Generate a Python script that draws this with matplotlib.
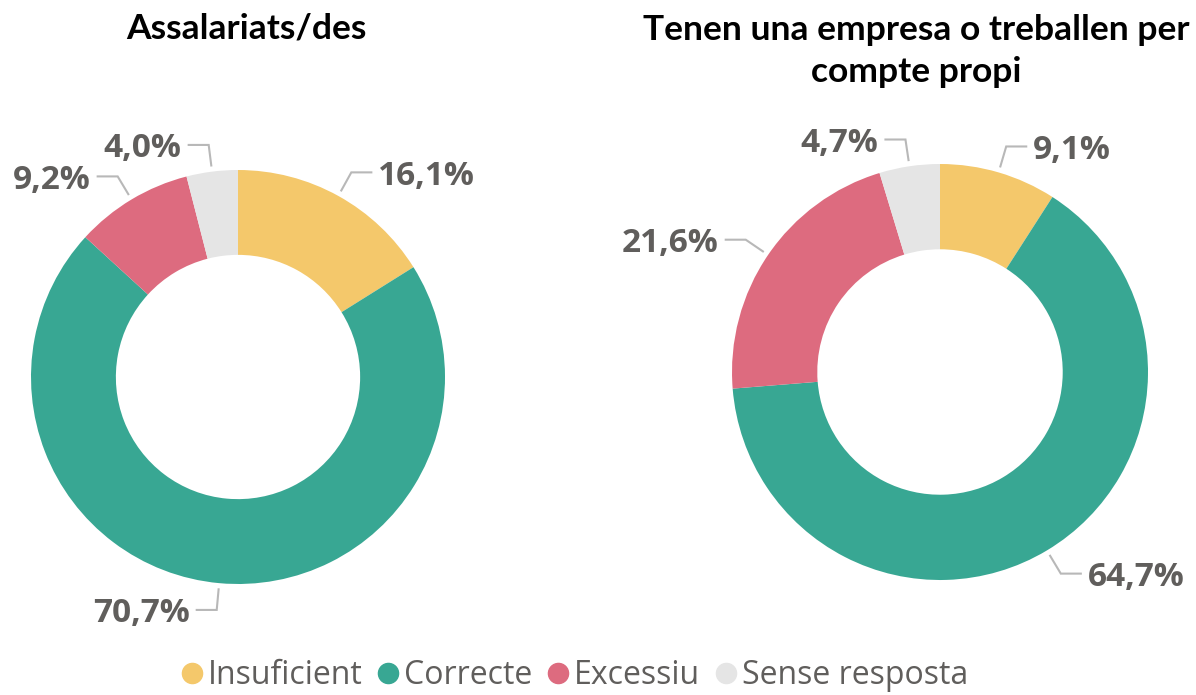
import numpy as np
import matplotlib.pyplot as plt
from matplotlib.lines import Line2D

categories = ['Insuficient', 'Correcte', 'Excessiu', 'Sense resposta']
assalariats = [16.1, 70.7, 9.2, 4.0]
empresa = [9.1, 64.7, 21.6, 4.7]
titles = ['Assalariats/des', 'Tenen una empresa o treballen per\ncompte propi']
colors = ['#F4C86B', '#38A793', '#DD6B7F', '#E5E5E5']

W, H = 1196, 695
text_col = '#605E5C'
line_col = '#B8B8B8'

fig = plt.figure(figsize=(W / 100, H / 100), dpi=100)


def donut(cx, cy, r, values):
    # axes placed so that data radius 1 == r pixels
    ax = fig.add_axes([(cx - r) / W, (H - cy - r) / H, 2 * r / W, 2 * r / H])
    wedges, _ = ax.pie(values, colors=colors, startangle=90, counterclock=False,
                       radius=1, wedgeprops=dict(width=0.41, linewidth=0))
    ax.set_xlim(-1, 1)
    ax.set_ylim(-1, 1)
    ax.set_aspect('equal')
    ax.axis('off')
    seg = 20 / r
    gap = 7 / r
    for w, v in zip(wedges, values):
        ang = np.deg2rad((w.theta1 + w.theta2) / 2)
        x0, y0 = 1.03 * np.cos(ang), 1.03 * np.sin(ang)
        x1, y1 = 1.13 * np.cos(ang), 1.13 * np.sin(ang)
        side = 1 if x1 >= 0 else -1
        x2 = x1 + side * seg
        ax.plot([x0, x1, x2], [y0, y1, y1], color=line_col, lw=1.5,
                clip_on=False, solid_joinstyle='miter')
        lab = f'{v:.1f}'.replace('.', ',') + '%'
        ax.text(x2 + side * gap, y1 - 4 / r, lab, ha='left' if side > 0 else 'right',
                va='center', fontsize=24, fontweight='bold', family='Open Sans',
                color=text_col, clip_on=False)
    return ax


donut(238, 377, 207, assalariats)
donut(940, 372, 208, empresa)

fig.text(246 / W, 1 - 28 / H, titles[0], ha='center', va='center',
         fontsize=25.5, fontweight='bold', family='Lato', color='#000000')
fig.text(916 / W, 1 - 51 / H, titles[1], ha='center', va='center',
         fontsize=25.5, fontweight='bold', family='Lato', color='#000000',
         linespacing=1.4)

handles = [Line2D([], [], marker='o', ls='', color=c, markersize=14.5) for c in colors]
leg = fig.legend(handles, categories, loc='center', bbox_to_anchor=(575 / W, 1 - 676 / H),
                 ncol=4, frameon=False, handlelength=0.6, handletextpad=0.2,
                 columnspacing=0.5, borderpad=0,
                 prop={'family': 'Open Sans', 'size': 23})
for t in leg.get_texts():
    t.set_color(text_col)

fig.savefig('out.png', dpi=100, facecolor='white')
